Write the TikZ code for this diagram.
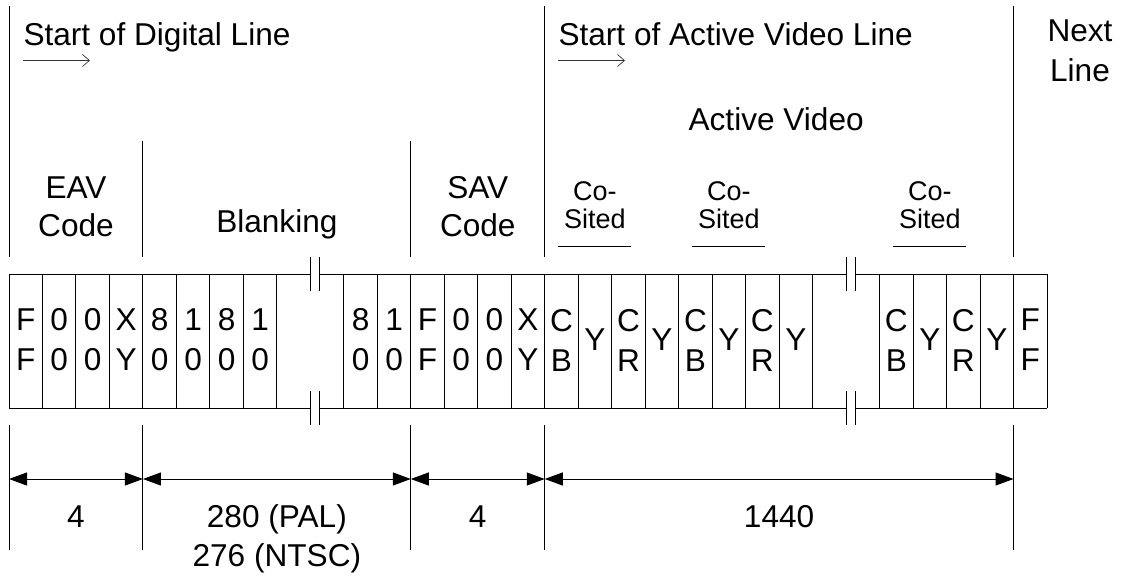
\documentclass[tikz,border=0pt]{standalone}
\usepackage{fontspec}
\setmainfont{Liberation Sans}
\usetikzlibrary{arrows.meta,positioning,calc}

\begin{document}
\begin{tikzpicture}[x=1pt,y=-1pt,line width=1pt,
    lbl/.style={font=\fontsize{31.6}{38}\selectfont,align=center,inner sep=0pt},
    cosited/.style={font=\fontsize{27}{28}\selectfont,align=center,inner sep=0pt},
    cell/.style={font=\fontsize{31.6}{40}\selectfont,align=center,inner sep=0pt},
    dim/.style={{Triangle[length=18pt,width=13pt]}-{Triangle[length=18pt,width=13pt]}},
    startarrow/.style={-{Straight Barb[length=7pt,width=12pt]},line width=0.7pt,black!80}]
    \useasboundingbox (0,0) rectangle (1123,577);
    \def\w{33.484}
    % section dividers above the word row
    \draw (9,6) -- (9,257);
    \draw ({9+4*\w},141) -- ({9+4*\w},257);
    \draw ({9+12*\w},141) -- ({9+12*\w},257);
    \draw ({9+16*\w},6) -- ({9+16*\w},257);
    \draw ({9+30*\w},6) -- ({9+30*\w},257);
    % dividers below, with the dimension ends
    \foreach \k in {0,4,12,16,30} {
        \draw ({9+\k*\w},425) -- ({9+\k*\w},550);
        \coordinate (d\k) at ({9+\k*\w},479);
    }
    % word row
    \foreach \y in {274,408} {
        \draw (9,\y) -- ({9+9*\w},\y);
        \draw ({9+9*\w+9.5},\y) -- ({9+25*\w},\y);
        \draw ({9+25*\w+9.5},\y) -- ({9+31*\w},\y);
    }
    \foreach \k in {0,...,8,10,11,...,24,26,27,...,31}
        \draw ({9+\k*\w},274) -- ({9+\k*\w},408);
    % break marks
    \foreach \k in {9,25} {
        \foreach \dx in {0,9.5} {
            \draw ({9+\k*\w+\dx},257) -- ({9+\k*\w+\dx},291);
            \draw ({9+\k*\w+\dx},391) -- ({9+\k*\w+\dx},425);
        }
    }
    \foreach \k/\txt in {0/F\\F,1/0\\0,2/0\\0,3/X\\Y,4/8\\0,5/1\\0,6/8\\0,7/1\\0,
        10/8\\0,11/1\\0,12/F\\F,13/0\\0,14/0\\0,15/X\\Y,
        16/C\\B,17/Y,18/C\\R,19/Y,20/C\\B,21/Y,22/C\\R,23/Y,
        26/C\\B,27/Y,28/C\\R,29/Y,30/F\\F}
        \node[cell] (c\k) at ({9+(\k+0.5)*\w},340) {\txt};
    % headings
    \node[lbl,anchor=base west] (digstart) at (23,46) {Start of Digital Line};
    \coordinate (digL) at (23,60.5);
    \coordinate (digR) at (90,60.5);
    \draw[startarrow] (digL) -- (digR);
    \node[lbl,anchor=base west] (avstart) at (558,46) {Start of Active Video Line};
    \coordinate (avL) at (558,60.5);
    \coordinate (avR) at (625,60.5);
    \draw[startarrow] (avL) -- (avR);
    \node[lbl,font=\fontsize{31.6}{40}\selectfont] (nextline) at (1080,50.3) {Next\\Line};
    \node[lbl,anchor=base] (avideo) at ({9+23*\w-3},131) {Active Video};
    \node[lbl] (eav) at ({9+2*\w},206.5) {EAV\\Code};
    \node[lbl,anchor=base] (blanking) at ({9+8*\w},233) {Blanking};
    \node[lbl] (sav) at ({9+14*\w},206.5) {SAV\\Code};
    \foreach \k in {17,21,27} {
        \node[cosited] (cs\k) at ({9+(\k+0.5)*\w},205) {Co-\\Sited};
        \draw ({9+(\k+0.5)*\w-36.5},246.7) -- ++(73,0);
    }
    % word counts
    \draw[dim] (d0) -- (d4);
    \draw[dim] (d4) -- (d12);
    \draw[dim] (d12) -- (d16);
    \draw[dim] (d16) -- (d30);
    \node[lbl,anchor=base] (eavn) at ({9+2*\w},527) {4};
    \node[lbl,anchor=base] (paln) at ({9+8*\w},527) {280 (PAL)};
    \node[lbl,anchor=base] (ntscn) at ({9+8*\w},566) {276 (NTSC)};
    \node[lbl,anchor=base] (savn) at ({9+14*\w},527) {4};
    \node[lbl,anchor=base] (activen) at ({9+23*\w},527) {1440};
\end{tikzpicture}
\end{document}
